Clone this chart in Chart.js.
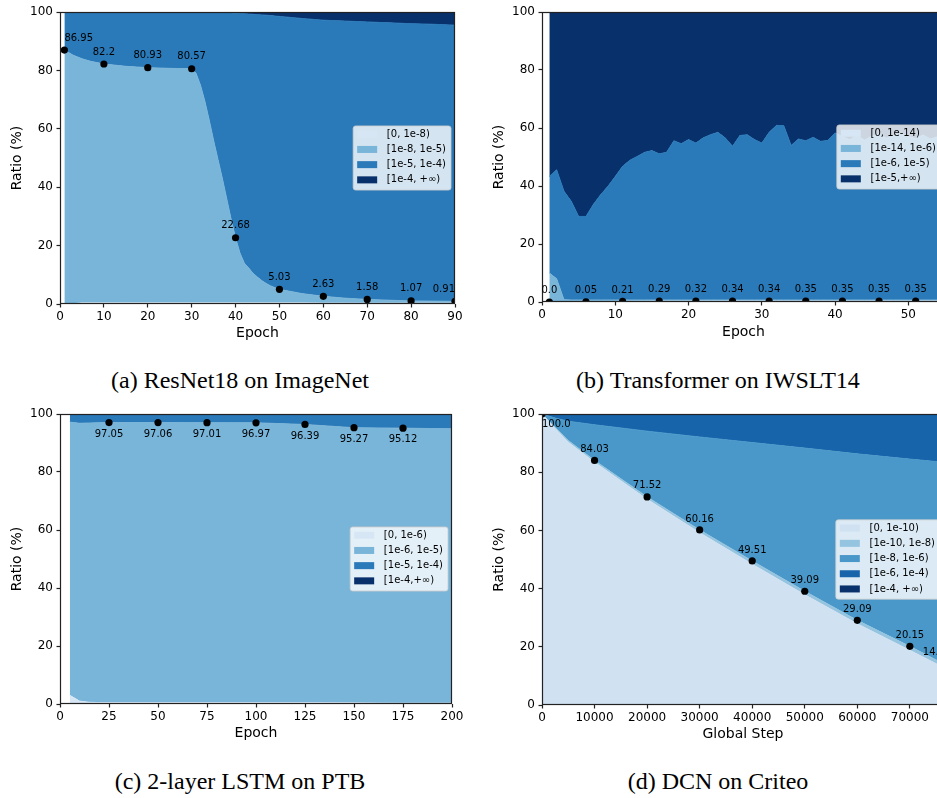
<!DOCTYPE html>
<html>
<head>
<meta charset="utf-8">
<title>Ratio of parameter update sizes</title>
<script src="https://cdn.jsdelivr.net/npm/chart.js@4.4.1/dist/chart.umd.min.js"></script>
<style>
  html, body { margin: 0; padding: 0; background: #fff; overflow: hidden; }
  body { width: 937px; height: 798px; position: relative; }
  canvas { position: absolute; }
  .caption {
    position: absolute; width: 470px; text-align: center;
    font-family: 'Liberation Serif', 'Times New Roman', serif;
    font-size: 24px; line-height: 24px; color: #000;
  }
</style>
</head>
<body>
<canvas id="chartA" width="470" height="345" style="left:0;top:0"></canvas>
<canvas id="chartB" width="480" height="345" style="left:470px;top:0"></canvas>
<canvas id="chartC" width="470" height="345" style="left:0;top:400px"></canvas>
<canvas id="chartD" width="480" height="345" style="left:470px;top:400px"></canvas>
<div class="caption" style="left:5px;top:368px">(a) ResNet18 on ImageNet</div>
<div class="caption" style="left:483px;top:368px">(b) Transformer on IWSLT14</div>
<div class="caption" style="left:5px;top:769px">(c) 2-layer LSTM on PTB</div>
<div class="caption" style="left:483px;top:769px">(d) DCN on Criteo</div>
<script>
// ---- data: upper edge (in %) of each stacked band ----

// (a) ResNet18 on ImageNet
const epochsA = [1, 3, 5, 7, 10, 15, 20, 25, 30,
  31, 32, 33, 34, 35, 36, 37, 38, 39, 40,
  41, 42, 43, 44, 45, 46, 47, 48, 49, 50,
  55, 60, 65, 70, 75, 80, 85, 90];
const resnetEdge0 = [0, 0.1, 0.4, 0.4, 0.4, 0.4, 0.4, 0.4, 0.4,
  0.4, 0.4, 0.4, 0.4, 0.4, 0.4, 0.4, 0.4, 0.4, 0.4,
  0.4, 0.4, 0.4, 0.4, 0.4, 0.4, 0.4, 0.4, 0.4, 0.4,
  0.4, 0.35, 0.35, 0.3, 0.3, 0.3, 0.3, 0.3];
const resnetEdge1 = [86.95, 85.2, 84.0, 83.1, 82.2, 81.4, 80.93, 80.7, 80.57,
  79, 75, 69.5, 63, 56, 49.5, 43, 36, 29, 22.68,
  17.5, 14, 12.3, 10.5, 9.2, 8.0, 7.0, 6.2, 5.6, 5.03,
  3.6, 2.63, 2.0, 1.58, 1.3, 1.07, 0.98, 0.91];
const resnetEdge2 = [100, 100, 100, 100, 100, 100, 100, 100, 100,
  100, 100, 100, 100, 99.9, 99.9, 99.8, 99.7, 99.7, 99.6,
  99.5, 99.4, 99.3, 99.2, 99.1, 99.0, 98.9, 98.8, 98.6, 98.5,
  97.8, 97.2, 96.9, 96.6, 96.3, 96.0, 95.8, 95.5];
const resnetMarkX = [1, 10, 20, 30, 40, 50, 60, 70, 80, 90];
const resnetMarkY = [86.95, 82.2, 80.93, 80.57, 22.68, 5.03, 2.63, 1.58, 1.07, 0.91];
const resnetLegend = ['[0, 1e-8)', '[1e-8, 1e-5)', '[1e-5, 1e-4)', '[1e-4, +\u221e)'];
const resnetTicksX = [0, 10, 20, 30, 40, 50, 60, 70, 80, 90];

// (b) Transformer on IWSLT14
const epochsB = [1, 2, 3, 4, 5, 6, 7, 8, 9, 10,
  11, 12, 13, 14, 15, 16, 17, 18, 19, 20,
  21, 22, 23, 24, 25, 26, 27, 28, 29, 30,
  31, 32, 33, 34, 35, 36, 37, 38, 39, 40,
  41, 42, 43, 44, 45, 46, 47, 48, 49, 50,
  51, 52, 53, 54, 55];
const transEdge0 = [0, 0, 0.01, 0.02, 0.03, 0.05, 0.08, 0.11, 0.15, 0.18,
  0.21, 0.23, 0.25, 0.27, 0.28, 0.29, 0.30, 0.30, 0.31, 0.31,
  0.32, 0.32, 0.33, 0.33, 0.33, 0.34, 0.34, 0.34, 0.34, 0.34,
  0.34, 0.34, 0.34, 0.34, 0.34, 0.35, 0.35, 0.35, 0.35, 0.35,
  0.35, 0.35, 0.35, 0.35, 0.35, 0.35, 0.35, 0.35, 0.35, 0.35,
  0.35, 0.35, 0.35, 0.35, 0.35];
const transEdge1 = [10, 8, 0.8, 0.7, 0.7, 0.7, 0.7, 0.7, 0.7, 0.7,
  0.7, 0.7, 0.7, 0.7, 0.7, 0.7, 0.7, 0.7, 0.7, 0.7,
  0.7, 0.7, 0.7, 0.7, 0.7, 0.7, 0.7, 0.7, 0.7, 0.7,
  0.7, 0.7, 0.7, 0.7, 0.7, 0.7, 0.7, 0.7, 0.7, 0.7,
  0.7, 0.7, 0.7, 0.7, 0.7, 0.7, 0.7, 0.7, 0.7, 0.7,
  0.7, 0.7, 0.7, 0.7, 0.7];
const transEdge2 = [43.3, 45.6, 38.2, 34.7, 29.5, 29.5, 33.6, 37.0, 39.9, 43.3,
  46.8, 48.9, 50.2, 51.6, 52.2, 51.1, 51.6, 55.6, 54.6, 56.0,
  54.8, 56.6, 57.7, 58.5, 56.6, 53.7, 57.4, 57.7, 56.0, 54.8,
  58.5, 60.9, 60.8, 54.0, 56.2, 55.6, 56.8, 55.4, 55.7, 58.3,
  57.0, 56.0, 57.5, 55.8, 57.2, 58.0, 56.5, 57.3, 58.2, 57.0,
  56.4, 57.6, 56.2, 57.0, 56.5];
const transMarkX = [1, 6, 11, 16, 21, 26, 31, 36, 41, 46, 51];
const transMarkY = [0.0, 0.05, 0.21, 0.29, 0.32, 0.34, 0.34, 0.35, 0.35, 0.35, 0.35];
const transLegend = ['[0, 1e-14)', '[1e-14, 1e-6)', '[1e-6, 1e-5)', '[1e-5,+\u221e)'];
const transTicksX = [0, 10, 20, 30, 40, 50];

// (c) 2-layer LSTM on PTB
const epochsC = [5, 10, 15, 20, 25, 50, 75, 100, 125, 150, 175, 200];
const lstmEdge0 = [3.0, 1.0, 0.6, 0.5, 0.5, 0.5, 0.5, 0.5, 0.5, 0.4, 0.3, 0.3];
const lstmEdge1 = [97.2, 96.8, 96.9, 97.0, 97.05, 97.06, 97.01, 96.97, 96.39, 95.27, 95.12, 94.9];
const lstmEdge2 = [100, 100, 100, 100, 100, 100, 100, 100, 100, 100, 100, 100];
const lstmMarkX = [25, 50, 75, 100, 125, 150, 175];
const lstmMarkY = [97.05, 97.06, 97.01, 96.97, 96.39, 95.27, 95.12];
const lstmLegend = ['[0, 1e-6)', '[1e-6, 1e-5)', '[1e-5, 1e-4)', '[1e-4,+\u221e)'];
const lstmTicksX = [0, 25, 50, 75, 100, 125, 150, 175, 200];

// (d) DCN on Criteo
const stepsD = [0, 2500, 5000, 10000, 20000, 30000, 40000, 50000, 60000, 70000, 76500];
const dcnEdge0 = [100, 95.0, 90.3, 83.4, 70.7, 59.2, 48.4, 37.9, 27.9, 18.8, 12.8];
const dcnEdge1 = [100, 95.4, 90.9, 84.03, 71.52, 60.16, 49.51, 39.09, 29.09, 20.15, 14.1];
const dcnEdge2 = [100, 98.6, 97.5, 96.3, 94.1, 92.1, 90.2, 88.3, 86.3, 84.5, 83.4];
const dcnEdge3 = [100, 99.7, 99.7, 99.7, 99.7, 99.7, 99.7, 99.7, 99.7, 99.7, 99.7];
const dcnMarkX = [0, 10000, 20000, 30000, 40000, 50000, 60000, 70000, 80000];
const dcnMarkY = [100.0, 84.03, 71.52, 60.16, 49.51, 39.09, 29.09, 20.15, 14.13];
const dcnLegend = ['[0, 1e-10)', '[1e-10, 1e-8)', '[1e-8, 1e-6)', '[1e-6, 1e-4)', '[1e-4, +\u221e)'];
const dcnTicksX = [0, 10000, 20000, 30000, 40000, 50000, 60000, 70000];

const ratioTicks = [0, 20, 40, 60, 80, 100];

const blues4 = ['#d6e6f4', '#79b4d9', '#2a79b8', '#08306b'];
const blues5 = ['#d0e1f2', '#94c4df', '#4a98c9', '#1764ab', '#08306b'];

Chart.defaults.font.family = "'DejaVu Sans', sans-serif";
Chart.defaults.color = '#000';

// axes box on all four sides
const frame = {
    id: 'frame',
    afterDatasetsDraw(chart) {
        const { ctx, chartArea: a } = chart;
        ctx.save();
        ctx.strokeStyle = '#222';
        ctx.lineWidth = 1.2;
        ctx.strokeRect(Math.round(a.left) + 0.5, Math.round(a.top) + 0.5,
            Math.round(a.right - a.left) - 1, Math.round(a.bottom - a.top) - 1);
        ctx.restore();
    }
};

// value labels next to the black markers
function markLabels(style) {
    return {
        id: 'markLabels',
        afterDatasetsDraw(chart) {
            const idx = chart.data.datasets.length - 1;
            const meta = chart.getDatasetMeta(idx);
            const values = chart.data.datasets[idx].data;
            const ctx = chart.ctx;
            ctx.save();
            ctx.font = '10px "DejaVu Sans"';
            ctx.fillStyle = '#000';
            ctx.textBaseline = 'middle';
            meta.data.forEach((pt, i) => {
                const s = Object.assign({ align: 'center', dx: 0, dy: style.dy }, style.at[i] || {});
                const v = values[i].y;
                ctx.textAlign = s.align;
                ctx.fillText(Number.isInteger(v) ? v.toFixed(1) : String(v), pt.x + s.dx, pt.y + s.dy);
            });
            ctx.restore();
        }
    };
}

// matplotlib-like legend box, centre right
function boxLegend(labels, colors) {
    return {
        id: 'boxLegend',
        afterDraw(chart) {
            const { ctx, chartArea: a } = chart;
            ctx.save();
            ctx.font = '10px "DejaVu Sans"';
            const textW = Math.max(...labels.map(t => ctx.measureText(t).width));
            const rowH = 15.2;
            const w = 4 + 20 + 9.7 + textW + 5;
            const h = labels.length * rowH + 3.3;
            const left = a.right - 4 - w;
            const top = (a.top + a.bottom) / 2 - h / 2;
            ctx.fillStyle = 'rgba(255,255,255,0.8)';
            ctx.strokeStyle = 'rgba(204,204,204,0.8)';
            ctx.lineWidth = 1;
            ctx.beginPath();
            ctx.roundRect(left, top, w, h, 2.5);
            ctx.fill();
            ctx.stroke();
            ctx.textBaseline = 'middle';
            ctx.textAlign = 'left';
            labels.forEach((t, i) => {
                const cy = top + 8.3 + i * rowH;
                ctx.fillStyle = colors[i];
                ctx.fillRect(left + 4, cy - 3.5, 20, 7);
                ctx.fillStyle = '#000';
                ctx.fillText(t, left + 33.7, cy);
            });
            ctx.restore();
        }
    };
}

function makeStackChart(canvasId, p) {
    const ctx = document.getElementById(canvasId).getContext('2d');
    const datasets = p.edges.map((edge, i) => ({
        data: p.x.map((x, j) => ({ x: x, y: edge[j] })),
        backgroundColor: p.colors[i],
        borderColor: p.colors[i],
        borderWidth: 1,
        pointRadius: 0,
        fill: i === 0 ? 'origin' : '-1'
    }));
    // top band: from the highest edge up to 100 %
    const topEdge = p.edges[p.edges.length - 1];
    datasets.push({
        data: p.x.map((x, j) => ({ x: x, y: topEdge[j] })),
        backgroundColor: p.colors[p.edges.length],
        borderColor: 'rgba(0,0,0,0)',
        borderWidth: 1,
        pointRadius: 0,
        fill: 'end'
    });
    datasets.push({
        type: 'scatter',
        data: p.markX.map((x, j) => ({ x: x, y: p.markY[j] })),
        backgroundColor: '#000',
        borderWidth: 0,
        pointRadius: 3.6,
        clip: 0,
        order: -1
    });

    new Chart(ctx, {
        type: 'line',
        data: { datasets: datasets },
        options: {
            responsive: false,
            animation: false,
            events: [],
            layout: { padding: p.pad },
            plugins: {
                legend: { display: false },
                tooltip: { enabled: false }
            },
            scales: {
                x: {
                    type: 'linear', min: 0, max: p.xMax, z: 1,
                    afterBuildTicks: s => { s.ticks = p.xTicks.map(v => ({ value: v })); },
                    afterFit: s => { s.height = p.xAxisH; },
                    border: { display: false },
                    grid: { drawOnChartArea: false, tickLength: 3.5, tickColor: '#222', tickWidth: 1.2 },
                    ticks: {
                        color: '#000', font: { size: 12 }, padding: 2,
                        autoSkip: false, maxRotation: 0, callback: v => String(v)
                    },
                    title: {
                        display: true, text: p.xTitle, color: '#000',
                        font: { size: 14 }, padding: { top: 0, bottom: p.xTitlePad }
                    }
                },
                y: {
                    min: 0, max: 100, z: 1,
                    afterBuildTicks: s => { s.ticks = ratioTicks.map(v => ({ value: v })); },
                    afterFit: s => { s.width = p.yAxisW; },
                    border: { display: false },
                    grid: { drawOnChartArea: false, tickLength: 3.5, tickColor: '#222', tickWidth: 1.2 },
                    ticks: { color: '#000', font: { size: 12 }, padding: 3.5 },
                    title: {
                        display: true, text: 'Ratio (%)', color: '#000',
                        font: { size: 14 }, padding: { top: p.yTitlePad, bottom: 0 }
                    }
                }
            }
        },
        plugins: [frame, markLabels(p.labelStyle), boxLegend(p.legend, p.colors)]
    });
}

makeStackChart('chartA', {
    x: epochsA, edges: [resnetEdge0, resnetEdge1, resnetEdge2],
    markX: resnetMarkX, markY: resnetMarkY,
    legend: resnetLegend, colors: blues4,
    xMax: 90, xTicks: resnetTicksX, xTitle: 'Epoch',
    pad: { left: 0, top: 12, right: 15, bottom: 0 },
    yAxisW: 60, xAxisH: 41, xTitlePad: 3.6, yTitlePad: 8.9,
    labelStyle: { dy: -12, at: { 0: { align: 'left' }, 9: { align: 'right' } } }
});

makeStackChart('chartB', {
    x: epochsB, edges: [transEdge0, transEdge1, transEdge2],
    markX: transMarkX, markY: transMarkY,
    legend: transLegend, colors: blues4,
    xMax: 55, xTicks: transTicksX, xTitle: 'Epoch',
    pad: { left: 0, top: 12, right: 5, bottom: 0 },
    yAxisW: 72, xAxisH: 43, xTitlePad: 4.3, yTitlePad: 20.9,
    labelStyle: { dy: -11.3, at: {} }
});

makeStackChart('chartC', {
    x: epochsC, edges: [lstmEdge0, lstmEdge1, lstmEdge2],
    markX: lstmMarkX, markY: lstmMarkY,
    legend: lstmLegend, colors: blues4,
    xMax: 200, xTicks: lstmTicksX, xTitle: 'Epoch',
    pad: { left: 0, top: 14, right: 18, bottom: 0 },
    yAxisW: 60, xAxisH: 41, xTitlePad: 3.6, yTitlePad: 8.9,
    labelStyle: { dy: 11.6, at: {} }
});

makeStackChart('chartD', {
    x: stepsD, edges: [dcnEdge0, dcnEdge1, dcnEdge2, dcnEdge3],
    markX: dcnMarkX, markY: dcnMarkY,
    legend: dcnLegend, colors: blues5,
    xMax: 76500, xTicks: dcnTicksX, xTitle: 'Global Step',
    pad: { left: 0, top: 14, right: 6, bottom: 0 },
    yAxisW: 72, xAxisH: 40, xTitlePad: 2.6, yTitlePad: 20.9,
    labelStyle: { dy: -11, at: { 0: { align: 'left', dy: 10 }, 8: { align: 'right', dx: -11 } } }
});
</script>
</body>
</html>
